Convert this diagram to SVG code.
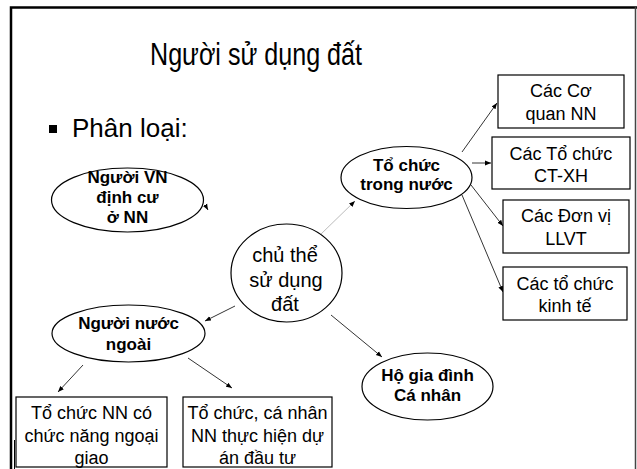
<svg xmlns="http://www.w3.org/2000/svg" width="637" height="469" viewBox="0 0 637 469">
  <defs>
    <marker id="arr" viewBox="0 0 10 10" refX="10" refY="5" markerWidth="6" markerHeight="6" orient="auto" markerUnits="userSpaceOnUse">
      <path d="M0,1 L10,5 L0,9 z" fill="#000"/>
    </marker>
    <style>
      .shape { fill: #fff; stroke: #000; stroke-width: 1.2; }
      .conn { fill: none; stroke: #000; stroke-width: 0.8; marker-end: url(#arr); }
      .light { stroke: #aaa; }
      .t { font-family: "Liberation Sans", Arial, sans-serif; fill: #000; text-anchor: middle; }
      .b { font-weight: bold; font-size: 17px; }
      .r { font-size: 18px; }
      .c { font-size: 20px; }
    </style>
  </defs>
  <rect width="637" height="469" fill="#fff"/>

  <!-- slide frame -->
  <path d="M11,469 V7.5 H637" fill="none" stroke="#000" stroke-width="2.5"/>
  <line x1="635.5" y1="7" x2="635.5" y2="469" stroke="#444" stroke-width="1.5"/>
  <line x1="14.5" y1="440" x2="14.5" y2="469" stroke="#000" stroke-width="1"/>

  <!-- heading -->
  <text class="t" x="256" y="65" font-size="31" textLength="212" lengthAdjust="spacingAndGlyphs">Người sử dụng đất</text>
  <rect x="49" y="125" width="8" height="8" fill="#000"/>
  <text x="72" y="137" font-family="Liberation Sans, Arial, sans-serif" font-size="26">Phân loại:</text>

  <!-- connectors -->
  <g id="connectors">
    <line class="conn light" x1="320" y1="235" x2="355" y2="201"/>
    <line class="conn" x1="235" y1="306" x2="205" y2="321"/>
    <line class="conn" x1="331" y1="315" x2="382" y2="357"/>
    <line class="conn" x1="462" y1="152" x2="497" y2="103"/>
    <line class="conn" x1="472" y1="163" x2="491" y2="163"/>
    <line class="conn" x1="471" y1="185" x2="503" y2="226"/>
    <line class="conn" x1="462" y1="195" x2="503" y2="292"/>
    <line class="conn" x1="83" y1="365" x2="58" y2="392"/>
    <line class="conn" x1="188" y1="358" x2="232" y2="388"/>
    <line class="conn" x1="206" y1="206.5" x2="208" y2="210"/>
  </g>

  <g id="nguoi-vn">
    <ellipse class="shape" cx="127.5" cy="200" rx="76" ry="32"/>
    <text class="t b" x="127.5" y="183">Người VN</text>
    <text class="t b" x="127.5" y="203">định cư</text>
    <text class="t b" x="127.5" y="223">ở NN</text>
  </g>

  <g id="chu-the">
    <ellipse class="shape" cx="286.5" cy="273" rx="55.5" ry="49"/>
    <text class="t c" x="285" y="262">chủ thể</text>
    <text class="t c" x="286" y="287">sử dụng</text>
    <text class="t c" x="285" y="311">đất</text>
  </g>

  <g id="to-chuc-trong-nuoc">
    <ellipse class="shape" cx="406.5" cy="177.5" rx="65.5" ry="31"/>
    <text class="t b" x="406.5" y="171">Tổ chức</text>
    <text class="t b" x="406.5" y="190">trong nước</text>
  </g>

  <g id="co-quan-nn">
    <rect class="shape" x="498" y="75" width="126" height="53"/>
    <text class="t r" x="561" y="97">Các Cơ</text>
    <text class="t r" x="561" y="120">quan NN</text>
  </g>

  <g id="to-chuc-ct-xh">
    <rect class="shape" x="492" y="137" width="138" height="52"/>
    <text class="t r" x="561" y="160">Các Tổ chức</text>
    <text class="t r" x="561" y="182">CT-XH</text>
  </g>

  <g id="don-vi-llvt">
    <rect class="shape" x="503" y="200" width="126" height="53"/>
    <text class="t r" x="566" y="222">Các Đơn vị</text>
    <text class="t r" x="566" y="245">LLVT</text>
  </g>

  <g id="to-chuc-kinh-te">
    <rect class="shape" x="503" y="267" width="124" height="53"/>
    <text class="t r" x="565" y="290">Các tổ chức</text>
    <text class="t r" x="565" y="312">kinh tế</text>
  </g>

  <g id="nguoi-nuoc-ngoai">
    <ellipse class="shape" cx="128.5" cy="333.5" rx="76.5" ry="28.5"/>
    <text class="t b" x="128.5" y="329">Người nước</text>
    <text class="t b" x="128.5" y="350">ngoài</text>
  </g>

  <g id="ho-gia-dinh">
    <ellipse class="shape" cx="427.5" cy="386.5" rx="65.5" ry="33.5"/>
    <text class="t b" x="427.5" y="381">Hộ gia đình</text>
    <text class="t b" x="427.5" y="401">Cá nhân</text>
  </g>

  <g id="to-chuc-ngoai-giao">
    <rect class="shape" x="16" y="397" width="151" height="70"/>
    <text class="t r" x="91.5" y="419">Tổ chức NN có</text>
    <text class="t r" x="91.5" y="442">chức năng ngoại</text>
    <text class="t r" x="91.5" y="464">giao</text>
  </g>

  <g id="du-an-dau-tu">
    <rect class="shape" x="183" y="397" width="149" height="70"/>
    <text class="t r" x="257.5" y="419">Tổ chức, cá nhân</text>
    <text class="t r" x="257.5" y="442">NN thực hiện dự</text>
    <text class="t r" x="257.5" y="464">án đầu tư</text>
  </g>
</svg>
